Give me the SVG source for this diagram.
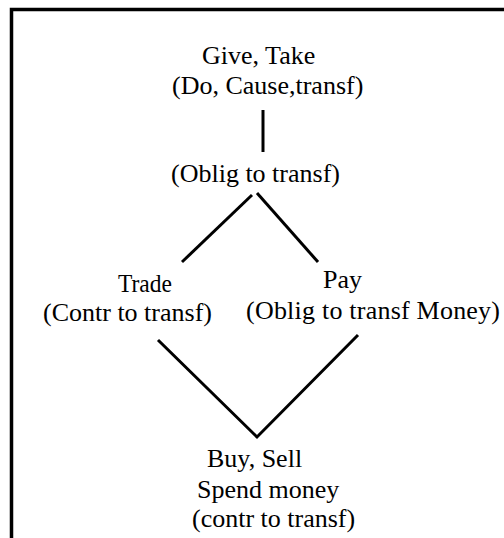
<svg xmlns="http://www.w3.org/2000/svg" width="504" height="538" viewBox="0 0 504 538">
<style>
text{font-family:"Liberation Serif","Times New Roman",serif;font-size:26px;fill:#000}
.c{stroke:#000;stroke-width:3;fill:none}
.f{stroke:#000;stroke-width:3.5;fill:none}
</style>
<rect width="504" height="538" fill="#fff"/>
<path class="f" d="M11.5 538 V9.5 H504"/>
<g id="give"><text x="202" y="64">Give, Take</text><text x="172" y="94">(Do, Cause,transf)</text></g>
<g id="oblig"><text x="171" y="182">(Oblig to transf)</text></g>
<g id="trade"><text x="118" y="292" textLength="54" lengthAdjust="spacingAndGlyphs">Trade</text><text x="43" y="321">(Contr to transf)</text></g>
<g id="pay"><text x="323" y="288">Pay</text><text x="246" y="319" textLength="254">(Oblig to transf Money)</text></g>
<g id="buy"><text x="207" y="467">Buy, Sell</text><text x="197" y="498">Spend money</text><text x="192" y="527">(contr to transf)</text></g>
<g id="connectors">
<line class="c" x1="263" y1="110" x2="263" y2="152"/>
<line class="c" x1="182" y1="262" x2="252" y2="195"/>
<line class="c" x1="257" y1="193" x2="318" y2="262"/>
<polyline class="c" points="158,340 257,437 358,335"/>
</g>
</svg>
